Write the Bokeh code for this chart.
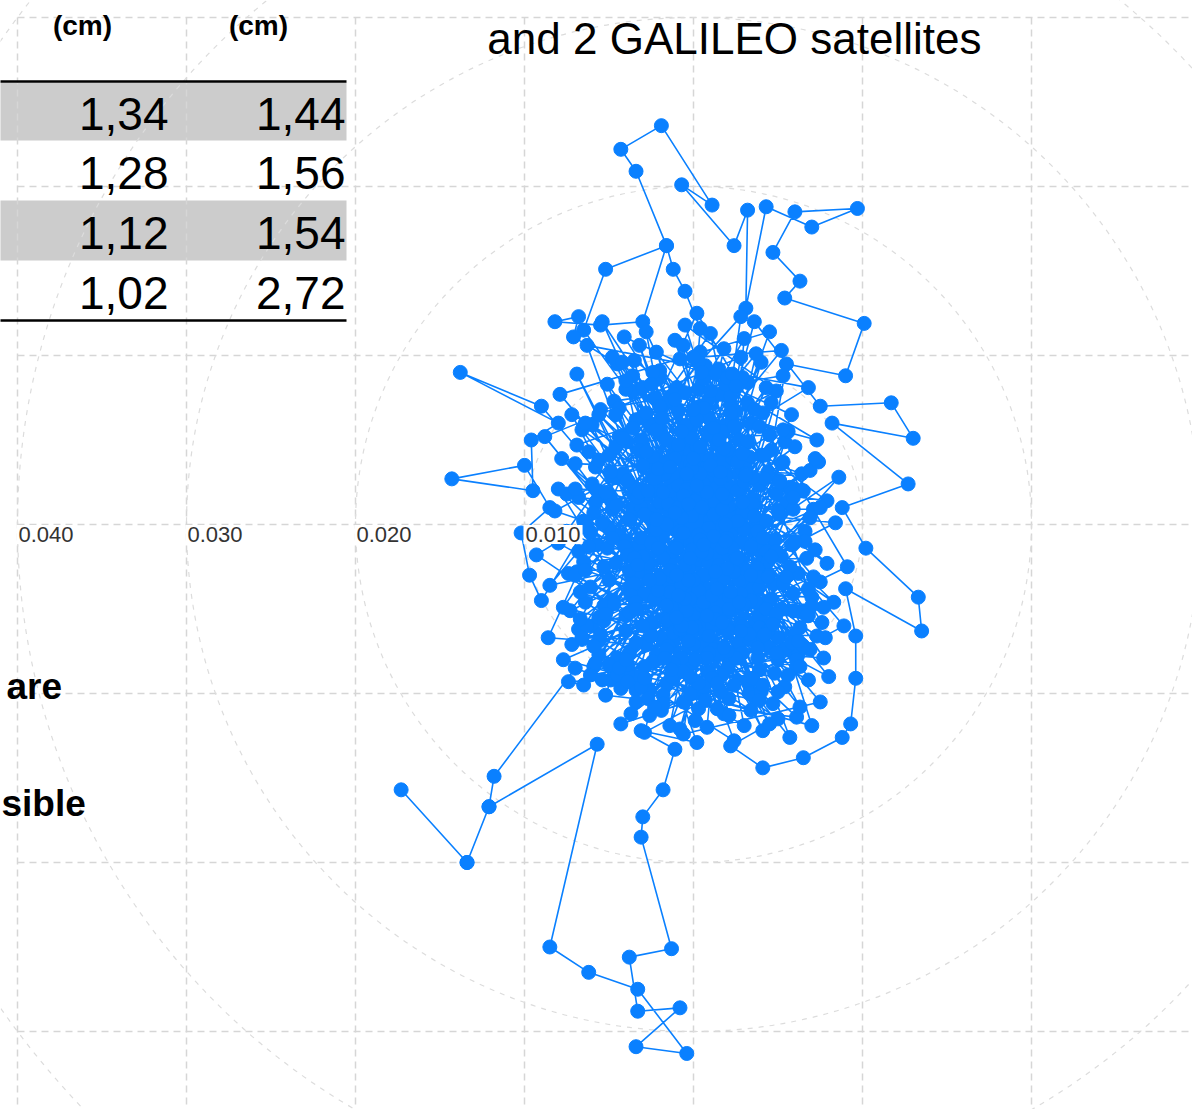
from bokeh.plotting import figure
from bokeh.models import Range1d
from bokeh.core.properties import value
from bokeh.embed import file_html
from bokeh.resources import INLINE

# ---------------- data (position offsets in millimetres: East, North) ----------------
east_mm = [
    0.5, -2.3, 1.8, 3.9, -1.1, 0.2, 2.7, -3.6, 1.4, -0.8,
    4.2, -2.9, 0.9, 2.1, -4.7, 1.3, 3.3, -1.7, 0.4, 5.1,
    -0.6, 2.5, -3.2, 1.0, -2.0, 3.7, 0.1, -5.3, 2.9, -1.4,
    6.0, -0.3, 1.6, -2.6, 4.5, -3.9, 0.7, 2.2, -1.9, 3.1,
    -4.4, 1.9, -0.9, 5.6, -2.2, 0.3, 3.6, -5.8, 1.2, -0.5,
    0.4, -0.5, -1.2, -1.6, -3.4, -4.3, -1.9, 1.1, -0.7, 2.4, 3.2, 3.1, 4.3, 7.0, 9.7, 6.0, 4.7, 6.3, 5.4, 10.1, 9.0, 5.5,
    2.8, -3.4, 4.8, -1.2, 0.8, -6.1, 3.0, -0.1, 1.7, -2.7,
    6.7, -4.0, 0.0, 2.4, -1.5, 4.1, -3.0, 1.1, 5.3, -0.7,
    -5.0, 2.0, -2.4, 3.4, 0.6, -3.8, 1.5, 4.9, -1.0, 2.6,
    -6.5, 0.2, 3.8, -2.1, 5.9, -0.4, 1.9, -4.9, 2.3, -1.6,
    7.1, -3.1, 0.5, 4.4, -1.3, 3.2, -5.5, 1.2, -2.5, 6.3,
    -6.5, -5.2, -1.6, -3.0, -5.5, -8.2, -6.8, -7.1, -4.5,
    0.9, -4.2, 2.7, -0.2, 5.0, -3.3, 1.6, -6.8, 3.5, 0.4,
    -1.8, 4.6, -2.8, 7.5, 0.1, -5.1, 2.1, -0.9, 3.9, -3.7,
    1.4, 6.4, -7.0, 0.7, -2.0, 4.0, -4.5, 2.9, -1.1, 5.4,
    -0.3, 3.1, -6.0, 1.8, -3.5, 7.9, 0.6, -2.3, 4.7, -5.9,
    2.5, -0.6, 6.9, -7.5, 1.0, 3.7, -4.1, 5.8, -1.4, 0.3,
    -9.0, -13.8, -8.0, -9.6, -9.5, -14.3, -10.0, -8.5, -10.2, -9.7, -9.0,
    -2.6, 8.3, -6.6, 2.0, -0.1, 4.3, -3.0, 1.3, -5.2, 6.1,
    -8.0, 0.8, 3.0, -4.6, 8.0, -1.7, 2.2, -7.3, 5.2, -0.8,
    7.3, -3.6, 1.7, -6.9, 4.1, -2.0, 0.4, -8.5, 6.6, -4.3,
    3.3, -1.2, 8.6, -5.6, 0.0, 2.8, -8.8, 5.7, -3.2, 1.5,
    -7.7, 7.0, -0.5, 4.9, -8.2, 0.9, -4.8, 8.9, -2.9, 3.6,
    7.5, 11.7, 13.0, 8.2, 12.7, 8.8, 10.2, 13.3, 13.5, 9.0, 9.6, 9.6, 9.3, 8.8, 6.5, 4.1, 2.2, 5.0,
    -9.3, 6.8, -6.3, 2.4, -3.9, 9.1, 0.2, -8.6, 7.7, -5.4,
    0.3, -1.5, 1.7, -0.4, 2.3, -2.2, 0.8, -1.0, 1.5, -0.7,
    2.6, -2.7, 0.1, 1.2, -1.8, 3.0, -0.2, 1.9, -3.1, 0.6,
    -0.9, 3.5, -2.4, 0.5, 2.0, -3.5, 1.0, -1.3, 3.8, -0.1,
    1.6, -2.0, 0.7, 2.9, -1.6, 0.3, -3.3, 2.1, -0.5, 4.4,
    -6.5, -7.4, -4.9, -3.4, -7.0, -11.8, -12.1, -13.4, -17.3, -13.4, -12.1, -5.7, -8.5, -6.2,
    -3.3, -0.4, -3.4, -0.8, -3.3, -3.8, -1.3, -3.1, -3.0, -1.8, -1.1, -3.1, 0.2,
    -4.1, 5.5, -1.9, 1.1, -5.0, 3.9, -2.5, 6.2, -4.4, 0.6,
    2.7, -6.0, 4.6, -1.3, 3.2, -3.0, 5.0, -5.7, 1.8, -2.2,
    7.2, -7.2, 0.0, 4.2, -3.8, 2.4, -1.0, 6.0, -6.4, 3.4,
    -0.2, 5.3, -4.7, 1.4, -2.8, 6.8, -8.0, 0.9, 3.9, -4.0,
    8.4, -6.8, 2.8, -0.6, 7.5, -7.9, 4.5, -3.4, 5.9, -1.6,
    -5.6, 3.4, -1.1, 6.5, -3.6, 0.9, 4.8, -6.9, 2.2, -0.3,
    1.8, -4.5, 5.7, -2.0, 7.6, -1.4, 3.3, -6.2, 0.4, 4.1,
    -3.3, 2.9, -7.4, 1.1, 5.4, -0.8, -4.8, 6.9, -2.6, 0.7,
    3.6, -5.3, 0.0, 7.8, -2.3, 2.0, -6.6, 4.7, -0.9, -3.9,
    6.1, -1.6, 2.6, -5.9, 0.3, 5.2, -3.0, 1.5, -7.0, 3.7,
    -0.6, 4.3, -4.2, 2.3, -2.1, 7.0, -5.8, 0.8, 3.0, -1.2,
    5.6, -3.5, 1.3, -6.3, 4.0, -0.4, 2.5, -4.6, 6.4, -2.4,
    0.6, -7.8, 3.9, -1.8, 5.3, -3.1, 1.9, -5.5, 7.4, -0.1,
    2.1, -2.9, 6.3, -4.0, 0.2, 4.5, -6.1, 1.0, -1.5, 3.2,
    -3.7, 7.7, -0.7, 2.7, -5.1, 0.5, 5.8, -2.2, 1.6, -4.4,
    4.6, -1.0, -6.7, 3.5, -2.7, 6.6, -0.2, 1.7, -4.9, 2.4,
    -1.7, 5.0, -3.4, 0.9, 7.2, -5.4, 2.9, -0.5, 4.0, -7.2,
    1.2, -4.1, 3.8, -2.4, 6.0, -0.9, -6.0, 2.6, -3.2, 5.1,
    -0.2, 2.0, -5.0, 4.9, -1.9, 0.6, -3.8, 6.8, -2.8, 3.4,
    5.7, -6.4, 1.4, -0.6, 3.1, -4.3, 7.5, -1.4, 0.1, -2.0,
    2.9, -3.0, 0.4, 6.9, -5.6, 3.6, -1.1, 4.4, -7.5, 1.0,
    -2.5, 4.6, -0.8, 2.1, -4.7, 0.0, 5.4, -3.6, 1.8, -6.1,
    3.9, -1.3, 6.2, -3.9, 1.4, -5.7, 2.4, -2.2, 5.0, 0.3,
    -4.0, 7.9, -0.1, 3.0, -6.8, 1.2, -2.9, 4.8, -1.2, 2.6,
    0.8, -3.7, 5.8, -0.9, 2.8, -5.3, 4.3, -1.6, 6.5, -4.5,
    1.9, -2.3, 3.5, -6.5, 0.5, 5.2, -1.8, 2.2, -3.4, 7.0,
    -0.4, 4.1, -5.2, 1.1, -2.6, 6.1, -0.7, 3.3, -4.2, 0.0,
    2.6, -1.5, 5.9, -3.9, 0.9, -6.9, 3.9, -0.3, 4.9, -2.1,
    -5.6, 1.7, -1.2, 4.2, -3.4, 2.0, -7.7, 0.6, 6.3, -0.6,
    3.3, -4.6, 0.2, 5.5, -2.0, 1.4, -5.9, 2.9, -1.0, 4.5,
    -2.8, 0.9, 4.7, -5.0, 2.3, -0.5, 6.0, -3.1, 1.6, -6.3,
    3.4, -1.9, 0.1, 5.1, -4.4, 2.0, -0.8, 7.3, -2.2, 4.0,
    -4.9, 1.5, -0.3, 3.0, -6.6, 5.8, -1.4, 0.7, -3.5, 2.5,
    6.8, -2.9, 1.9, -5.2, 3.6, -0.1, 4.4, -1.8, -7.0, 0.8,
    -1.1, 3.8, -3.8, 0.3, 6.5, -5.6, 2.7, -0.6, 5.3, -2.3,
    1.3, -4.6, 4.1, -1.6, -6.2, 2.9, -0.2, 5.6, -3.2, 0.5,
    3.1, -2.6, 6.7, -0.9, 1.8, -5.4, 0.0, 4.6, -3.9, 2.2,
    -0.7, 5.2, -6.7, 1.0, -2.1, 3.4, -4.2, 6.2, -1.3, 0.2,
    4.9, -3.3, 2.4, -1.0, -5.8, 0.6, 3.9, -2.5, 7.1, -4.0,
    1.7, -0.4, -4.8, 2.8, 5.9, -1.7, 0.4, -6.4, 4.2, -2.7,
]
north_mm = [
    1.2, 3.1, -0.7, 2.4, -2.8, 4.6, -3.3, 0.9, 2.2, -0.4,
    -1.5, -4.1, 6.3, 1.1, 2.8, -5.2, 4.0, 1.6, -2.1, 0.6,
    3.7, -1.9, -1.2, 0.3, 5.4, -4.6, -6.0, -2.5, 3.2, -3.6,
    2.1, 1.9, -3.9, 0.4, 5.3, 4.9, -1.0, 7.1, -6.7, -0.2,
    -0.6, 2.9, -5.0, -3.0, 2.3, 8.0, 1.5, 1.3, -7.4, 0.8,
    11.6, 13.8, 15.1, 16.5, 20.9, 22.2, 23.6, 18.9, 20.1, 16.5, 18.6, 12.8, 18.8, 17.6, 18.7, 18.5, 16.1, 14.4, 13.4, 11.9, 8.8, 9.5,
    -5.9, 6.2, -0.9, -1.6, 3.4, -3.7, -2.6, -8.2, 5.5, -2.3,
    -2.0, -5.4, 2.6, 0.0, 7.3, -6.8, 3.5, -2.9, 3.7, -7.9,
    4.1, -8.5, -0.9, 6.0, -4.3, -7.6, 9.2, 1.8, 4.3, -4.8,
    0.2, -3.4, -7.9, 8.6, -5.1, 5.9, -1.3, -4.5, 3.9, -9.4,
    0.9, 1.0, -9.8, -2.2, 2.0, 8.4, 6.8, 0.6, -5.8, -6.1,
    11.5, 15.1, 16.5, 12.0, 11.8, 12.0, 12.3, 11.1, 9.5,
    -0.2, 3.0, 5.0, -1.1, -8.0, -9.0, 7.7, -1.6, -3.8, 10.2,
    0.1, 4.4, -7.1, -3.4, 1.4, 8.3, -10.3, 6.7, -5.5, -3.0,
    4.8, 3.0, 3.6, -6.5, -10.8, 9.6, -7.9, 1.0, 10.9, -9.6,
    -2.6, 3.3, -6.0, -11.2, 9.7, 1.4, 2.4, -4.4, -10.6, -8.4,
    6.7, -10.5, -7.4, -0.4, 11.3, -1.1, 11.1, 6.5, -11.9, -3.9,
    7.0, 9.0, 6.0, 5.0, 2.0, 2.7, 3.5, 1.0, -0.5, -3.0, -4.5,
    6.0, -4.6, 5.6, -6.2, 0.5, 0.2, -1.9, 8.9, -10.1, -11.4,
    2.1, -12.0, 11.0, -2.3, -9.0, 3.0, -0.6, -5.1, 10.3, 9.8,
    5.0, 7.9, -8.9, 8.9, -12.2, 1.3, 7.0, -3.6, -0.4, -11.8,
    -9.3, -8.2, 2.8, -6.9, -5.3, 9.9, 5.2, -12.6, 10.6, -4.0,
    -8.0, -11.9, 11.8, 7.9, 0.8, -2.3, 9.9, -6.0, -12.3, 12.0,
    7.0, 7.2, 5.1, 6.0, 2.4, 1.0, -1.4, -4.3, -6.3, -3.8, -6.6, -9.1, -11.8, -12.6, -13.8, -14.4, -13.1, -11.5,
    -1.8, 8.1, 10.6, -12.8, -8.8, -2.5, 12.5, -6.7, -7.9, 12.0,
    -0.6, 1.2, 0.9, 2.8, -1.4, -0.3, 1.9, -1.4, -2.4, 0.4,
    2.0, 1.8, -1.8, 3.2, -2.0, -0.3, 3.6, 1.6, -0.8, -3.0,
    2.3, 1.2, 4.0, -4.8, 4.4, 2.2, -1.1, -3.1, -2.6, 5.1,
    2.7, 3.3, -0.9, 0.7, 0.0, 4.1, -2.9, -4.3, -2.4, 3.1,
    -9.5, -9.3, -9.2, -9.8, -8.5, -14.9, -16.7, -20.0, -15.7, -20.0, -16.7, -13.0, -25.0, -26.5,
    -27.5, -31.3, -30.9, -28.6, -28.8, -25.6, -25.1, -18.5, -17.3, -15.7, -13.3, -12.2, -12.9,
    -1.0, 1.3, 6.8, -6.0, -3.3, 5.8, -6.6, -2.9, 5.2, 8.6,
    -7.0, 2.4, -4.4, -9.0, 7.2, 8.1, -6.7, -1.2, 10.4, -7.7,
    -1.5, 6.5, -7.1, 2.7, 0.3, -9.5, 8.1, 4.6, -4.6, -11.0,
    -10.0, 8.8, 7.3, -10.9, 11.4, -9.2, -1.1, 5.3, -8.6, -6.3,
    0.1, 1.6, 12.3, -12.4, -10.5, 7.7, 11.4, -10.5, -4.1, 5.0,
    -5.5, -6.4, 3.9, -5.2, 5.7, -8.8, -1.7, -2.8, 7.6, -6.9,
    4.5, -8.6, 2.2, 9.1, -5.8, -4.0, -10.0, 4.3, 3.0, 6.6,
    1.6, -7.6, -2.9, -9.1, 4.9, -6.3, 0.9, 3.2, -9.8, 9.4,
    0.5, -4.8, -3.3, -6.7, 7.5, -0.8, -6.8, -3.5, 1.0, 2.6,
    -8.4, -5.6, 3.7, 0.7, 9.6, -1.9, 6.4, -7.7, -3.0, 10.1,
    -8.7, -5.0, -9.5, 6.1, -3.9, -4.3, 3.4, -1.7, 2.5, 7.7,
    5.5, -3.5, -5.6, -0.1, -9.8, 2.1, -7.9, 4.6, -7.1, 9.0,
    -4.6, 3.9, -6.1, -10.1, -3.5, 5.0, 8.3, -6.5, 3.7, -1.5,
    -11.3, 0.6, -10.8, 8.0, 6.2, -7.3, -8.9, 3.9, -5.7, 4.9,
    -4.2, -4.9, -3.6, -2.0, -1.4, 9.0, 1.9, 5.6, -9.9, 6.9,
    -5.8, -6.2, -4.0, 2.8, -10.3, -1.0, -4.4, 1.8, 1.5, -2.7,
    3.6, -9.9, -7.0, -7.6, 3.9, -9.2, -6.0, 7.8, 4.1, -7.1,
    5.7, -1.3, -0.4, -8.1, -6.5, -5.3, 5.9, -2.2, 4.4, 2.6,
    -2.0, 8.7, -8.3, -1.6, -11.0, -9.6, -5.2, -5.4, 6.6, -4.5,
    -2.5, 6.0, -3.4, 10.6, 3.0, -9.7, 1.0, -2.7, -11.6, -3.2,
    1.3, -6.0, -0.9, 0.4, -7.7, -10.2, 0.7, -6.3, 1.8, 3.5,
    -1.1, 7.2, -12.1, -5.0, -4.7, 9.9, -7.4, 8.8, -3.2, -0.5,
    -3.7, -4.9, -7.7, -1.8, -9.4, 2.0, -2.8, 10.2, 0.8, -10.9,
    8.5, -2.3, 3.3, -11.9, -6.2, -0.7, -8.4, -8.8, -6.9, 0.2,
    -7.9, -11.2, -1.2, 4.7, -4.1, -5.7, 8.1, -4.8, 2.0, -8.9,
    0.0, 2.7, -9.1, -2.2, -1.6, -5.0, -10.6, 6.6, -4.6, -4.8,
    -5.1, -0.8, 1.9, -4.2, -11.3, -8.0, 5.5, -6.8, 9.6, 3.9,
    -2.0, -7.2, 0.9, -8.3, 7.4, 4.7, -3.1, -3.3, -5.3, 3.3,
    6.5, -1.4, -6.4, 4.1, -5.0, -7.5, -4.9, 6.9, -8.4, 1.7,
    -6.5, 1.1, -9.3, -3.1, 7.0, -3.8, -7.2, 8.7, -3.0, -11.8,
    4.3, -6.6, -5.9, -0.2, 8.9, -4.4, -1.0, -9.6, 3.1, -6.0,
    -1.3, 6.3, -8.0, 2.5, -8.5, -2.6, -6.2, -6.6, 0.3, -9.9,
    3.1, 5.0, 1.2, -4.7, -6.7, -7.0, 3.4, -10.4, -2.0, 8.2,
    -3.8, -9.1, -1.0, -5.3, 6.8, -6.1, -3.1, 1.9, 2.1, -5.4,
    7.4, -7.3, -2.7, -9.4, -7.2, 3.8, -4.6, -0.5, 5.6, -10.8,
    -2.8, 6.5, -9.5, -7.4, -1.3, 4.2, -9.0, -8.9, 1.9, 1.0,
    2.9, -3.3, -5.4, -4.2, -7.3, 0.1, 6.8, -1.9, -9.3, -4.0,
    -6.0, 3.6, -5.6, 7.9, -1.4, -3.0, 5.1, -6.9, -8.6, 2.3,
    -7.6, -2.4, 5.8, -5.5, -8.2, -1.2, -10.4, 8.3, -3.1, -8.0,
    -5.8, 3.0, -0.8, -6.3, 1.6, -7.9, 4.6, -2.7, -6.5, 2.0,
]

ring_radii_m = [0.01, 0.02, 0.03, 0.04, 0.05]
radial_tick_pos = [-0.04, -0.03, -0.02, -0.01]
radial_tick_labels = ["0.040", "0.030", "0.020", "0.010"]
grid_x_ticks = [-0.04, -0.03, -0.02, -0.01, 0.0, 0.01, 0.02]
grid_y_ticks = [0.03, 0.02, 0.01, 0.0, -0.01, -0.02, -0.03]

title_text = "and  2 GALILEO satellites"
col_headers = ["(cm)", "(cm)"]
col1_values = ["1,34", "1,28", "1,12", "1,02"]
col2_values = ["1,44", "1,56", "1,54", "2,72"]
side_texts = ["are", "sible"]

# ---------------- layout ----------------
W, H = 1192, 1109
CX, CY = 693, 524          # pixel position of the polar centre
S = 16900.0                # pixels per metre


def X(px):
    return (px - CX) / S


def Y(py):
    return (CY - py) / S


BLUE = "#0a80ff"
FONT = value("Liberation Sans")

p = figure(width=W, height=H, output_backend="svg", toolbar_location=None,
           x_range=Range1d(X(0), X(W)), y_range=Range1d(Y(H), Y(0)),
           x_axis_type=None, y_axis_type=None, min_border=0,
           outline_line_color=None, background_fill_color="white")
p.grid.visible = False

# table shading (behind the grid)
p.quad(left=[X(-5), X(-5)], right=[X(346), X(346)],
       top=[Y(82), Y(200)], bottom=[Y(140), Y(260)],
       fill_color="#cccccc", line_color=None)

# cartesian dashed grid
top_grid = max(grid_y_ticks)
left_grid = min(grid_x_ticks)
p.segment(x0=grid_x_ticks, x1=grid_x_ticks,
          y0=[top_grid] * len(grid_x_ticks), y1=[Y(H)] * len(grid_x_ticks),
          line_color="#d6d6d6", line_width=1.5, line_dash="7 5")
p.segment(x0=[left_grid] * len(grid_y_ticks), x1=[X(W)] * len(grid_y_ticks),
          y0=grid_y_ticks, y1=grid_y_ticks,
          line_color="#d6d6d6", line_width=1.5, line_dash="7 5")

# polar rings
p.circle(x=[0.0] * len(ring_radii_m), y=[0.0] * len(ring_radii_m), radius=ring_radii_m,
         fill_color=None, line_color="#dcdcdc", line_width=1.2, line_dash="5 6")

# table rules
p.segment(x0=[X(-5), X(-5)], x1=[X(346), X(346)], y0=[Y(81), Y(320)], y1=[Y(81), Y(320)],
          line_color="black", line_width=2.5)

# trajectory
east_m = [v / 1000.0 for v in east_mm]
north_m = [v / 1000.0 for v in north_mm]
p.line(east_m, north_m, line_color=BLUE, line_width=1.6)
p.scatter(east_m, north_m, marker="circle", size=14, fill_color=BLUE, line_color=BLUE)

# radial axis labels
p.text(x=radial_tick_pos, y=[0.0] * len(radial_tick_pos), text=radial_tick_labels,
       text_align="left", text_baseline="middle", x_offset=-1, y_offset=10,
       text_font=FONT, text_font_size="22px", text_color="#333333",
       background_fill_color="white", padding=2)

# title
p.text(x=[X(740)], y=[Y(38)], text=[title_text], text_align="center", text_baseline="middle",
       text_font=FONT, text_font_size="44px", text_color="black")

# table headers
p.text(x=[X(82), X(258)], y=[Y(25), Y(25)], text=col_headers, text_align="center",
       text_baseline="middle", text_font=FONT, text_font_size="28px",
       text_font_style="bold", text_color="black")

# table values
row_y = [Y(113), Y(172), Y(232), Y(292)]
p.text(x=[X(168)] * 4, y=row_y, text=col1_values, text_align="right", text_baseline="middle",
       text_font=FONT, text_font_size="46px", text_color="black")
p.text(x=[X(345)] * 4, y=row_y, text=col2_values, text_align="right", text_baseline="middle",
       text_font=FONT, text_font_size="46px", text_color="black")

# cut-off body text on the left
p.text(x=[X(6), X(1)], y=[Y(686), Y(803)], text=side_texts, text_align="left",
       text_baseline="middle", text_font=FONT, text_font_size="37px",
       text_font_style="bold", text_color="black")

open("out.html", "w").write(file_html(p, INLINE))
